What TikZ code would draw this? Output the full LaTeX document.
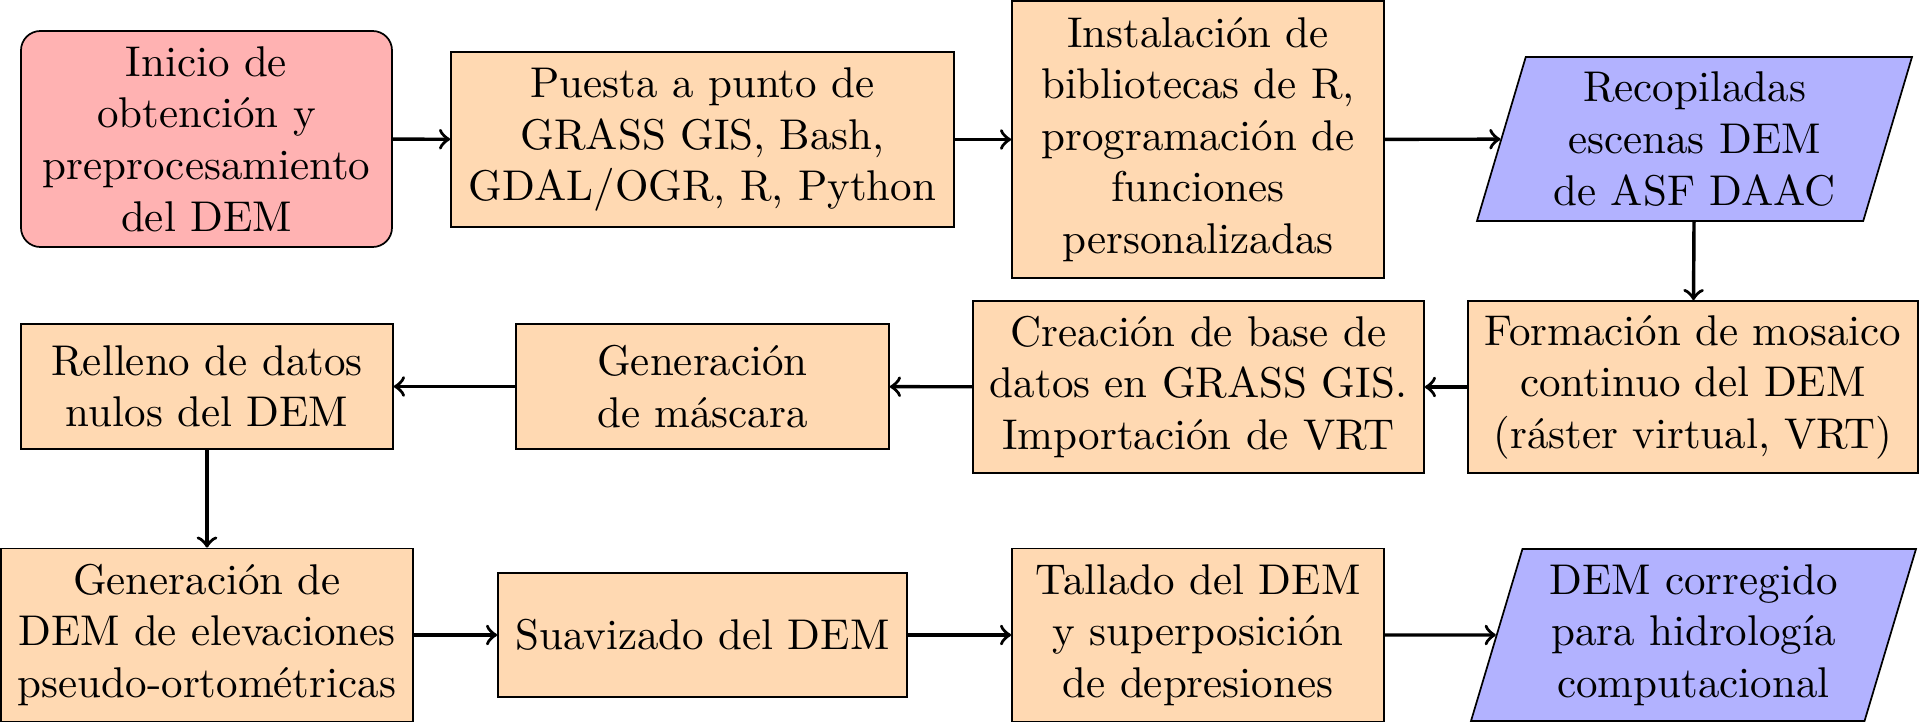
\documentclass[tikz,border=0pt]{standalone}
\usetikzlibrary{shapes.geometric}
\def\PX{0.23256pt}
\begin{document}
\begin{tikzpicture}[x=0.23256pt,y=-0.23256pt,
  base/.style={draw=black, text=black, align=center, inner sep=0pt, font=\normalsize},
  startbox/.style={base, rectangle, rounded corners=4.5pt, fill=red!30},
  procbox/.style={base, rectangle, fill=orange!30},
  iobox/.style={base, trapezium, trapezium left angle=70, trapezium right angle=110,
     trapezium stretches body, fill=blue!30},
  flow/.style={thick,->}]
\useasboundingbox (0,0) rectangle (1920,722);
\node[startbox, minimum width=371*\PX, minimum height=216*\PX] (start) at (206.5,139)
  {Inicio de\\obtención y\\preprocesamiento\\del DEM};
\node[procbox, minimum width=503*\PX, minimum height=175*\PX] (puesta) at (702.5,139.5)
  {Puesta a punto de\\GRASS GIS, Bash,\\GDAL/OGR, R, Python};
\node[procbox, minimum width=372*\PX, minimum height=277*\PX] (instal) at (1198,139.5)
  {Instalación de\\bibliotecas de R,\\programación de\\funciones\\personalizadas};
\node[iobox, minimum width=435*\PX, minimum height=164*\PX] (recop) at (1694.5,139)
  {Recopiladas\\escenas DEM\\de ASF DAAC};
\node[procbox, minimum width=450*\PX, minimum height=172*\PX] (formac) at (1693,387)
  {Formación de mosaico\\continuo del DEM\\(ráster virtual, VRT)};
\node[procbox, minimum width=451*\PX, minimum height=172*\PX] (creac) at (1198.5,387)
  {Creación de base de\\datos en GRASS GIS.\\Importación de VRT};
\node[procbox, minimum width=373*\PX, minimum height=125*\PX] (mascara) at (702.5,386.5)
  {Generación\\de máscara};
\node[procbox, minimum width=372*\PX, minimum height=125*\PX] (relleno) at (207,386.5)
  {Relleno de datos\\nulos del DEM};
\node[procbox, minimum width=412*\PX, minimum height=173*\PX] (gendem) at (207,635)
  {Generación de\\DEM de elevaciones\\pseudo-ortométricas};
\node[procbox, minimum width=409*\PX, minimum height=124*\PX] (suav) at (702.5,635)
  {Suavizado del DEM};
\node[procbox, minimum width=372*\PX, minimum height=173*\PX] (tallado) at (1198,635)
  {Tallado del DEM\\y superposición\\de depresiones};
\node[iobox, minimum width=445*\PX, minimum height=172*\PX] (correg) at (1693.5,635)
  {DEM corregido\\para hidrología\\computacional};
\draw[flow] (start) -- (puesta);
\draw[flow] (puesta) -- (instal);
\draw[flow] (instal) -- (recop);
\draw[flow] (recop) -- (formac);
\draw[flow] (formac) -- (creac);
\draw[flow] (creac) -- (mascara);
\draw[flow] (mascara) -- (relleno);
\draw[flow] (relleno) -- (gendem);
\draw[flow] (gendem) -- (suav);
\draw[flow] (suav) -- (tallado);
\draw[flow] (tallado) -- (correg);
\end{tikzpicture}
\end{document}
